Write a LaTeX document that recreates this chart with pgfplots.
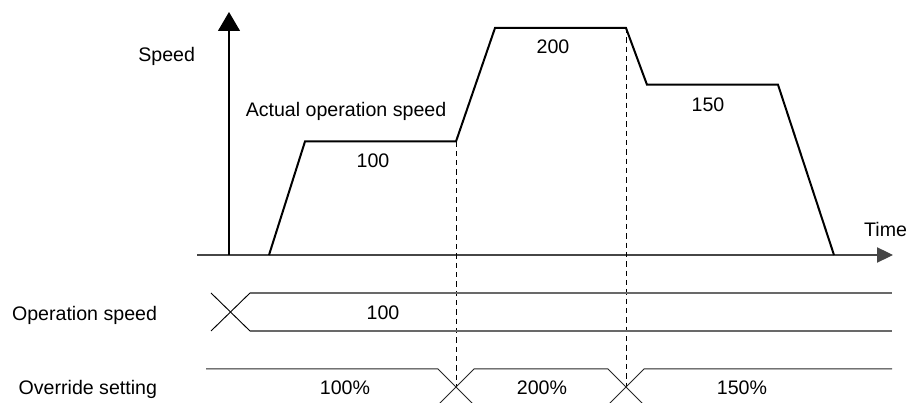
\documentclass[border=0pt]{standalone}
\usepackage{fontspec}
\setmainfont{Liberation Sans}
\usepackage{pgfplots}
\pgfplotsset{compat=1.18}
\usetikzlibrary{arrows.meta}
\definecolor{rowgray}{RGB}{105,105,105}
\definecolor{axgray}{RGB}{70,70,70}
\tikzset{lbl/.style={inner sep=0pt, outer sep=0pt, font=\fontsize{14.7}{17}\selectfont}}
\begin{document}
\begin{tikzpicture}
\begin{axis}[
  hide axis, scale only axis,
  width=681pt, height=302.25pt,
  xmin=-22.9, xmax=67.9, ymin=-130.4, ymax=224.67,
]
% axes
\addplot[axgray, line width=0.8pt, -{Triangle[length=12pt,width=11.5pt]}] coordinates {(-3.2,0) (66.4,0)};
\addplot[black, line width=0.8pt, -{Triangle[length=14.25pt,width=16.5pt]}] coordinates {(0,0) (0,214.1)};
% actual operation speed
\addplot[black, line width=1.5pt, line join=miter] coordinates {
 (4.0,0) (7.6,100) (22.7,100) (26.6,200) (39.7,200) (41.8,150) (54.9,150) (60.5,0)};
% dashed markers
\addplot[black, line width=0.75pt, dash pattern=on 4pt off 3pt] coordinates {(22.7,100) (22.7,-116.3)};
\addplot[black, line width=0.75pt, dash pattern=on 4pt off 3pt] coordinates {(39.7,200) (39.7,-116.3)};
% operation speed row
\addplot[black, line width=0.7pt] coordinates {(-1.8,-33.48) (2.1,-66.96)};
\addplot[black, line width=0.7pt] coordinates {(-1.8,-66.96) (2.1,-33.48)};
\addplot[rowgray, line width=1.1pt] coordinates {(2.1,-33.48) (66.3,-33.48)};
\addplot[rowgray, line width=1.1pt] coordinates {(2.1,-66.96) (66.3,-66.96)};
% override row
\addplot[black!85, line width=0.75pt] coordinates {(-2.3,-100.44) (20.9,-100.44) (24.5,-132.16)};
\addplot[black!85, line width=0.75pt] coordinates {(20.9,-132.16) (24.5,-100.44) (37.9,-100.44) (41.5,-132.16)};
\addplot[black!85, line width=0.75pt] coordinates {(37.9,-132.16) (41.5,-100.44) (66.3,-100.44)};
% labels
\node[lbl, anchor=base east] at (axis cs:-3.4,170.9) {Speed};
\node[lbl, anchor=base] at (axis cs:11.7,121.6) {Actual operation speed};
\node[lbl, anchor=base] at (axis cs:14.4,77.5) {100};
\node[lbl, anchor=base] at (axis cs:32.4,177.1) {200};
\node[lbl, anchor=base] at (axis cs:47.9,126.0) {150};
\node[lbl, anchor=base east] at (axis cs:67.8,16.7) {Time};
\node[lbl, anchor=base east] at (axis cs:-7.2,-57.3) {Operation speed};
\node[lbl, anchor=base east] at (axis cs:-7.2,-123.3) {Override setting};
\node[lbl, anchor=base] at (axis cs:15.4,-56.4) {100};
\node[lbl, anchor=base] at (axis cs:11.6,-123.3) {100\%};
\node[lbl, anchor=base] at (axis cs:31.3,-123.3) {200\%};
\node[lbl, anchor=base] at (axis cs:51.3,-123.3) {150\%};
\end{axis}
\pgfresetboundingbox
\useasboundingbox (current axis.south west) rectangle (current axis.north east);
\end{tikzpicture}
\end{document}
